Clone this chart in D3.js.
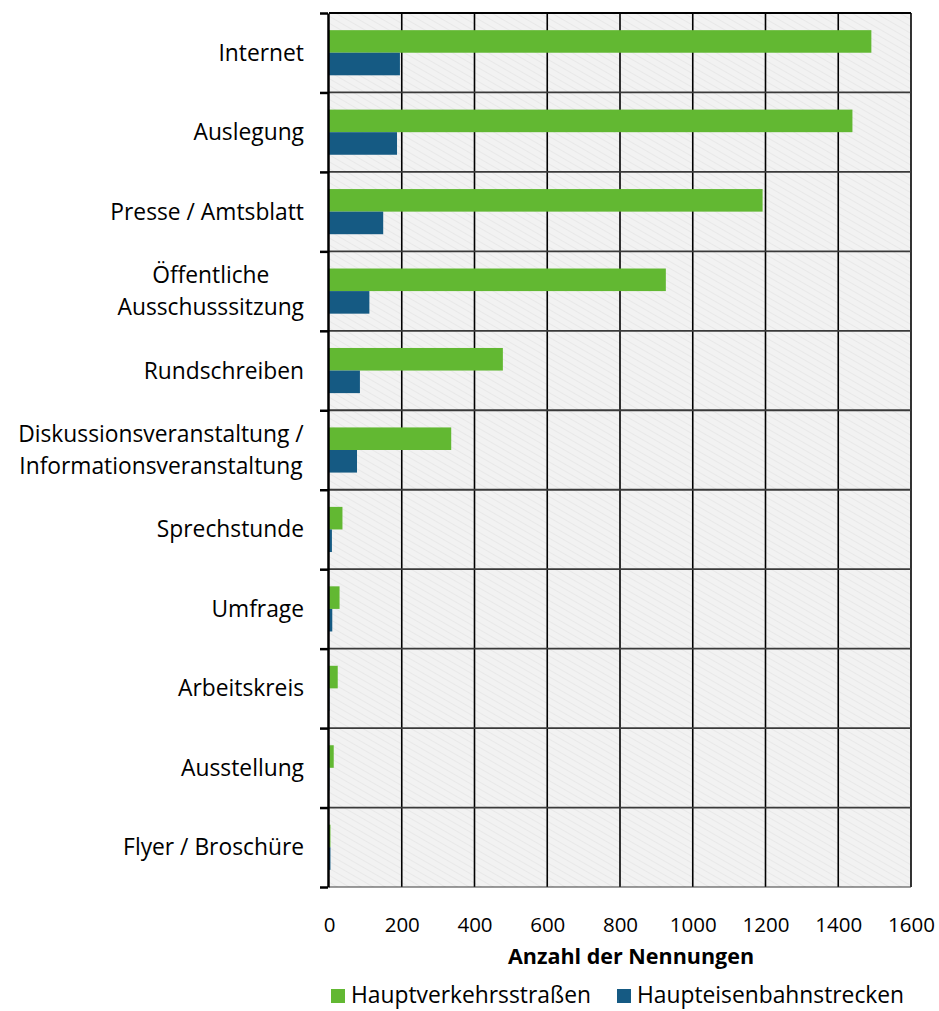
<!DOCTYPE html>
<html><head><meta charset="utf-8">
<script src="https://cdn.jsdelivr.net/npm/d3@7"></script>
<style>body{margin:0;background:#fff}svg{display:block}text{font-family:"Open Sans",sans-serif;fill:#000}</style>
</head><body><div id="c"></div>
<script>
const categories = [["Internet"],["Auslegung"],["Presse / Amtsblatt"],["Öffentliche","Ausschusssitzung"],["Rundschreiben"],["Diskussionsveranstaltung /","Informationsveranstaltung"],["Sprechstunde"],["Umfrage"],["Arbeitskreis"],["Ausstellung"],["Flyer / Broschüre"]];
const seriesNames = ["Hauptverkehrsstraßen","Haupteisenbahnstrecken"];
const strassen = [1491,1439,1192,926,478,336,37,29,24,13,4];
const bahn = [195,187,149,111,85,77,8,9,1,1,4];
const xTicks = [0,200,400,600,800,1000,1200,1400,1600];
const colors = ["#62b832","#155a83"];

const W=939,H=1011;
const m={l:329,r:911,t:13,b:887};
const FS=22.8;
const svg=d3.select("#c").append("svg").attr("width",W).attr("height",H);
const defs=svg.append("defs");
const pat=defs.append("pattern").attr("id","hatch").attr("patternUnits","userSpaceOnUse").attr("width",6).attr("height",6).attr("patternTransform","rotate(-60)");
pat.append("rect").attr("width",6).attr("height",6).attr("fill","#f2f2f2");
pat.append("line").attr("x1",0).attr("y1",0).attr("x2",0).attr("y2",6).attr("stroke","#e8e8e8").attr("stroke-width",2);

const x=d3.scaleLinear().domain([0,1600]).range([m.l,m.r]);
const idx=d3.range(categories.length);
const y=d3.scaleBand().domain(idx).range([m.t,m.b]).paddingInner(0).paddingOuter(0);
const inner=d3.scaleBand().domain([0,1]).range([0,y.bandwidth()]).paddingOuter(0.76).paddingInner(0);

svg.append("rect").attr("x",m.l).attr("y",m.t).attr("width",m.r-m.l).attr("height",m.b-m.t).attr("fill","url(#hatch)");

svg.append("g").selectAll("line").data(xTicks.slice(1)).join("line")
 .attr("x1",d=>x(d)).attr("x2",d=>x(d)).attr("y1",m.t).attr("y2",m.b)
 .attr("stroke","#000").attr("stroke-width",1.6);
const bounds=idx.map(i=>y(i)).concat([m.b]);
svg.append("g").selectAll("line").data(bounds).join("line")
 .attr("x1",m.l).attr("x2",m.r).attr("y1",d=>d).attr("y2",d=>d)
 .attr("stroke",(d,i)=>i===0?"#000":"#3a3a3a").attr("stroke-width",(d,i)=>i===bounds.length-1?1.2:1.8);

const series=[strassen,bahn];
series.forEach((vals,s)=>{
 svg.append("g").selectAll("rect").data(vals).join("rect")
  .attr("x",x(0)).attr("y",(d,i)=>y(i)+inner(s))
  .attr("width",d=>x(d)-x(0)).attr("height",inner.bandwidth())
  .attr("fill",colors[s]);
});

const yAxis=d3.axisLeft(d3.scaleLinear().domain([0,categories.length]).range([m.t,m.b])).tickValues(d3.range(categories.length+1)).tickFormat("").tickSize(8).tickSizeOuter(0);
const ya=svg.append("g").attr("transform",`translate(${m.l-1},0)`).call(yAxis);
ya.select(".domain").attr("stroke","#000").attr("stroke-width",2.5);
ya.selectAll(".tick line").attr("stroke","#000").attr("stroke-width",2.5);

const lab=svg.append("g").attr("font-size",FS);
categories.forEach((lines,i)=>{
 const cy=y(i)+y.bandwidth()/2;
 const g=lab.append("g");
 const n=lines.length, lh=32;
 const t=g.append("text").attr("text-anchor","middle");
 lines.forEach((l,j)=>{
  t.append("tspan").attr("x",0).attr("y",cy+(j-(n-1)/2)*lh).attr("dy","0.35em").text(l);
 });
 const bb=t.node().getBBox();
 g.attr("transform",`translate(${304-bb.width/2},0)`);
});

const xa=svg.append("g").attr("transform",`translate(0,${m.b})`).call(d3.axisBottom(x).tickValues(xTicks).tickFormat(d3.format("d")).tickSize(0).tickPadding(0));
xa.select(".domain").remove();
xa.selectAll("text").attr("y",45).attr("dy",0).attr("font-size",20.5).attr("font-family","Open Sans");

svg.append("text").attr("x",631).attr("y",964).attr("text-anchor","middle").attr("font-weight","bold").attr("font-size",21.5).text("Anzahl der Nennungen");

const leg=svg.append("g");
const legX=[331,617];
seriesNames.forEach((n,i)=>{
 leg.append("rect").attr("x",legX[i]).attr("y",989).attr("width",14).attr("height",14).attr("fill",colors[i]);
 leg.append("text").attr("x",legX[i]+20).attr("y",1003).attr("font-size",FS).text(n);
});
</script></body></html>
